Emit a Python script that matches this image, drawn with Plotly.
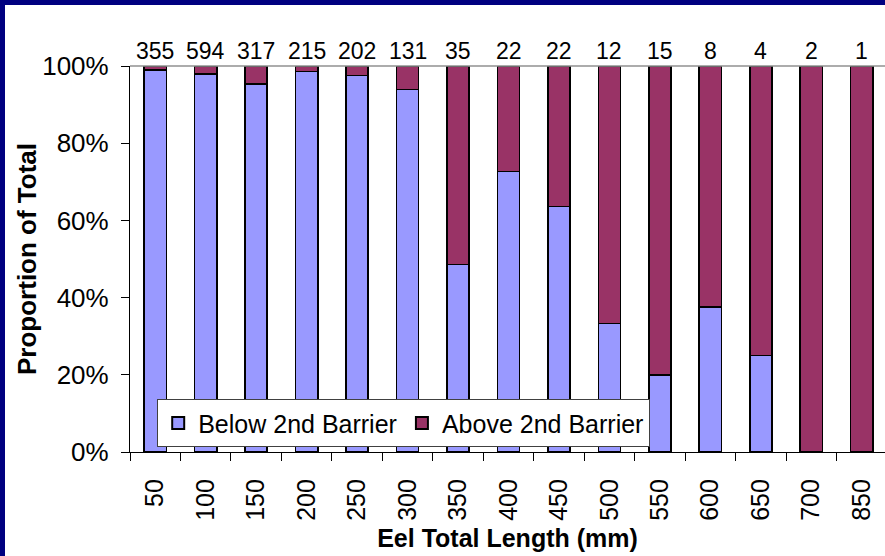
import plotly.graph_objects as go

categories = ["50", "100", "150", "200", "250", "300", "350", "400", "450",
              "500", "550", "600", "650", "700", "850"]
counts = [355, 594, 317, 215, 202, 131, 35, 22, 22, 12, 15, 8, 4, 2, 1]
below_pct = [98.9, 98.0, 95.3, 98.6, 97.5, 93.9, 48.6, 72.7, 63.6,
             33.3, 20.0, 37.5, 25.0, 0.0, 0.0]
above_pct = [1.1, 2.0, 4.7, 1.4, 2.5, 6.1, 51.4, 27.3, 36.4,
             66.7, 80.0, 62.5, 75.0, 100.0, 100.0]
y_ticks = [0, 20, 40, 60, 80, 100]
y_tick_labels = ["0%", "20%", "40%", "60%", "80%", "100%"]

FONT = "Arial, Liberation Sans, sans-serif"
W, H = 885, 556
L, R, T, B = 130, 0, 66, 104
pw, ph = W - L - R, H - T - B


def px_x(p):
    return (p - L) / pw


def px_y(p):
    return (H - B - p) / ph


fig = go.Figure()
fig.add_trace(go.Bar(x=categories, y=below_pct, name="Below 2nd Barrier",
                     marker=dict(color="#9999FF", line=dict(color="#000000", width=1.6))))
fig.add_trace(go.Bar(x=categories, y=above_pct, name="Above 2nd Barrier",
                     marker=dict(color="#993366", line=dict(color="#000000", width=1.6))))

for i, n in enumerate(counts):
    fig.add_annotation(x=i, y=100, xref="x", yref="y", text=str(n), showarrow=False,
                       yanchor="bottom", yshift=0,
                       font=dict(family=FONT, size=23, color="#000000"))

# y-axis title
fig.add_annotation(x=px_x(27), y=0.5, xref="paper", yref="paper",
                   text="<b>Proportion of Total</b>", textangle=-90, showarrow=False,
                   xanchor="center", yanchor="middle",
                   font=dict(family=FONT, size=26, color="#000000"))

# frame (navy band on left and top)
fig.add_shape(type="rect", xref="paper", yref="paper", x0=px_x(0), x1=px_x(5),
              y0=px_y(H), y1=px_y(0), fillcolor="#000080", line=dict(width=0), layer="above")
fig.add_shape(type="rect", xref="paper", yref="paper", x0=px_x(0), x1=px_x(W),
              y0=px_y(5), y1=px_y(0), fillcolor="#000080", line=dict(width=0), layer="above")
# plot-area top border
fig.add_shape(type="line", xref="paper", yref="paper", x0=0, x1=1, y0=1, y1=1,
              line=dict(color="#909090", width=1.5))

fig.update_layout(
    width=W, height=H,
    margin=dict(l=L, r=R, t=T, b=B),
    paper_bgcolor="#FFFFFF", plot_bgcolor="#FFFFFF",
    barmode="stack", bargap=0.56,
    font=dict(family=FONT, size=25, color="#000000"),
    showlegend=True,
    legend=dict(orientation="h", x=px_x(157), y=px_y(399), xanchor="left", yanchor="top",
                bgcolor="#FFFFFF", bordercolor="#404040", borderwidth=1.2,
                font=dict(family=FONT, size=25, color="#000000"),
                traceorder="normal", itemsizing="constant", tracegroupgap=0,
                itemwidth=30),
    xaxis=dict(type="category", tickson="boundaries", ticks="outside", ticklen=8,
               tickcolor="#000000", tickwidth=1, showline=True, linecolor="#000000",
               linewidth=1.2, showgrid=False, tickangle=-90,
               range=[-0.5, 14.46], ticklabelstandoff=16,
               tickfont=dict(family=FONT, size=25, color="#000000"),
               title=dict(text="<b>Eel Total Length (mm)</b>", standoff=9,
                          font=dict(family=FONT, size=25, color="#000000"))),
    yaxis=dict(range=[0, 100], tickvals=y_ticks, ticktext=y_tick_labels,
               ticks="outside", ticklen=8, tickcolor="#000000", tickwidth=1,
               showline=True, linecolor="#000000", linewidth=1.2, showgrid=False,
               zeroline=False, ticklabelstandoff=7,
               tickfont=dict(family=FONT, size=26, color="#000000")),
)

fig.write_html("out.html", config={"displayModeBar": False},
               post_script="document.body.style.margin='0';")
